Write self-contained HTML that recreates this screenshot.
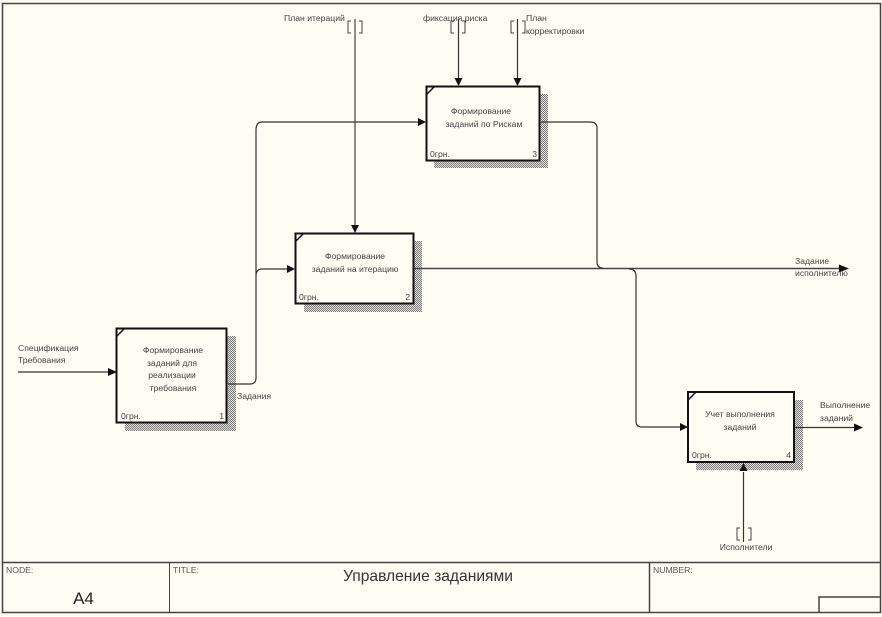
<!DOCTYPE html>
<html><head><meta charset="utf-8"><style>
html,body{margin:0;padding:0;background:#fffcf3;width:882px;height:617px;overflow:hidden}
svg{display:block}
text{font-family:"Liberation Sans",sans-serif;font-size:8.65px;fill:#444}
.c{text-anchor:middle}
.e{text-anchor:end}
.l{fill:none;stroke:#333;stroke-width:1.2}
.b{fill:#fffcf3;stroke:#111;stroke-width:2}
.h{fill:url(#ht)}
.t{fill:#555;font-size:8.65px}
.f{fill:none;stroke:#444;stroke-width:1.5}
</style></head><body>
<svg width="882" height="617" viewBox="0 0 882 617" xmlns="http://www.w3.org/2000/svg">
<defs>
<pattern id="ht" width="2" height="2" patternUnits="userSpaceOnUse"><rect width="2" height="2" fill="#e4e2da"/><rect width="1" height="1" fill="#7a7a76"/><rect x="1" y="1" width="1" height="1" fill="#7a7a76"/></pattern>
</defs>
<rect width="882" height="617" fill="#fffcf3"/>
<rect x="2.5" y="3.5" width="878" height="609" class="f"/>
<line x1="2" y1="562.5" x2="881" y2="562.5" class="f"/>
<line x1="169.5" y1="563" x2="169.5" y2="612" class="f" style="stroke-width:1"/>
<line x1="649.5" y1="563" x2="649.5" y2="612" class="f"/>
<path d="M819 612V597H881" class="f"/>
<text x="6" y="573" class="t">NODE:</text>
<text x="173" y="573" class="t">TITLE:</text>
<text x="653" y="573" class="t">NUMBER:</text>
<text x="83.500" y="604" class="c" style="font-size:17px;fill:#222">A4</text>
<text x="428" y="581" class="c" style="font-size:15.6px;fill:#333">Управление заданиями</text>

<!-- shadows -->
<path class="h" d="M540 94h8v74H434v-8h106z"/>
<path class="h" d="M413 241h9v71H304v-9h109z"/>
<path class="h" d="M227 336h9v95H125v-8h102z"/>
<path class="h" d="M794 400h9v70H696v-8h98z"/>

<!-- connectors -->
<path class="l" d="M18 372H108"/>
<path class="l" d="M228 384H250Q256 384 256 378V130Q256 122 262 122H418"/>
<path class="l" d="M256 276Q256 269 262 269H287"/>
<path class="l" d="M414 268.500H840" style="stroke:#444;stroke-width:1.500"/>
<path class="l" d="M541 122H590Q597 122 597 128V262Q597 268 603 268"/>
<path class="l" d="M629 269Q636 269 636 276V421Q636 427 642 427H680"/>
<path class="l" d="M795 427.500H855"/>
<path class="l" d="M355 19V225" style="stroke:#444"/>
<path class="l" d="M458.500 19V78"/>
<path class="l" d="M517.500 19V78"/>
<path class="l" d="M743.500 542V472"/>

<!-- arrowheads -->
<path d="M108 368l9 4-9 4z" fill="#111"/>
<path d="M418 118l8 4-8 4z" fill="#111"/>
<path d="M287 265l8 4-8 4z" fill="#111"/>
<path d="M680 423l8 4-8 4z" fill="#111"/>
<path d="M854 423.500l9 4-9 4z" fill="#111"/>
<path d="M839 264.500l10 4-10 4z" fill="#111"/>
<path d="M351 225l4 8 4-8z" fill="#111"/>
<path d="M454.500 78l4 8 4-8z" fill="#111"/>
<path d="M513.500 78l4 8 4-8z" fill="#111"/>
<path d="M739.500 471l4-8 4 8z" fill="#111"/>

<!-- tunnel brackets -->
<g fill="none" stroke="#444" stroke-width="1">
<path d="M351 21h-3v12h3M359 21h3v12h-3"/>
<path d="M454 21h-3v12h3M462 21h3v12h-3"/>
<path d="M514 21h-3v12h3M522 21h3v12h-3"/>
<path d="M740 528h-3v12h3M748 528h3v12h-3"/>
</g>

<!-- boxes -->
<rect x="426.500" y="86.500" width="113" height="74" class="b"/>
<rect x="295.500" y="233.500" width="118" height="70" class="b"/>
<rect x="116.500" y="328.500" width="110" height="94" class="b"/>
<rect x="688" y="392" width="106" height="70" class="b"/>
<g stroke="#111" stroke-width="1.500">
<path d="M427 94l8-8M296 241l8-8M117 336l8-8M688 400l8-8"/>
</g>

<!-- box text -->
<text x="481" y="114" class="c">Формирование</text>
<text x="484" y="127" class="c">заданий по Рискам</text>
<text x="430" y="157">0грн.</text><text x="537" y="157" class="e">3</text>
<text x="355" y="259" class="c">Формирование</text>
<text x="355" y="272" class="c">заданий на итерацию</text>
<text x="299" y="300">0грн.</text><text x="410" y="300" class="e">2</text>
<text x="173" y="353" class="c">Формирование</text>
<text x="172" y="366" class="c">заданий для</text>
<text x="172" y="378" class="c">реализации</text>
<text x="173" y="391" class="c">требования</text>
<text x="121" y="419">0грн.</text><text x="224" y="419" class="e">1</text>
<text x="740" y="417" class="c">Учет выполнения</text>
<text x="740" y="430" class="c">заданий</text>
<text x="692" y="458">0грн.</text><text x="791" y="458" class="e">4</text>

<!-- labels -->
<text x="18" y="351">Спецификация</text>
<text x="18" y="363">Требования</text>
<text x="237" y="399">Задания</text>
<text x="284" y="21">План итераций</text>
<text x="423" y="21">фиксация риска</text>
<text x="526" y="21">План</text>
<text x="526" y="34">корректировки</text>
<text x="795" y="264">Задание</text>
<text x="795" y="276">исполнителю</text>
<text x="820" y="408">Выполнение</text>
<text x="820" y="421">заданий</text>
<text x="746" y="550" class="c">Исполнители</text>
</svg>
</body></html>
